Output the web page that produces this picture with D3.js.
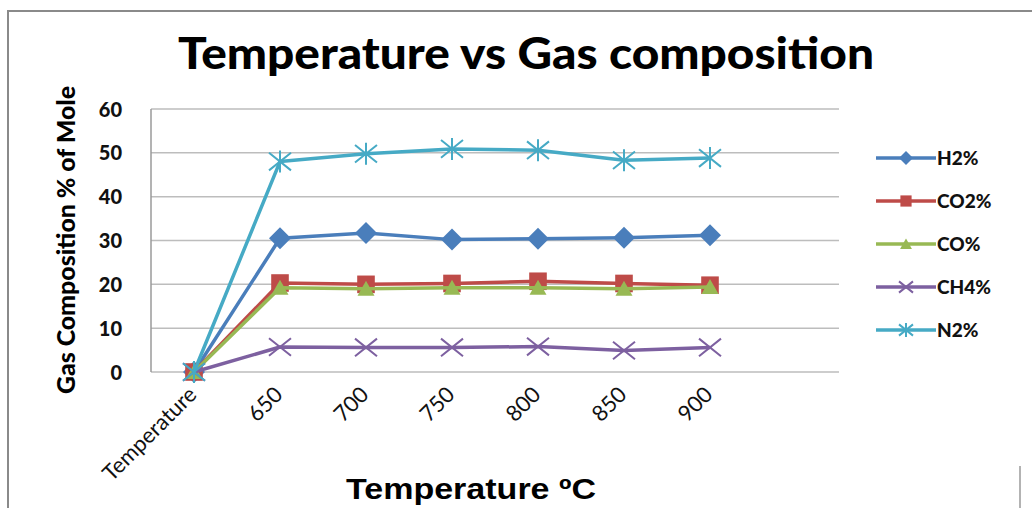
<!DOCTYPE html>
<html>
<head>
<meta charset="utf-8">
<script src="https://cdn.jsdelivr.net/npm/d3@7"></script>
<style>
  html, body { margin: 0; padding: 0; background: #fff; }
  svg { display: block; }
</style>
</head>
<body>
<svg id="chart" width="1032" height="508"></svg>
<script>
// Categories along the x axis and percentage tick values
const categories = ["Temperature", "650", "700", "750", "800", "850", "900"];
const yTicks = [0, 10, 20, 30, 40, 50, 60];

// Gas composition (% of mole) per temperature
const h2  = [0, 30.5, 31.7, 30.2, 30.4, 30.6, 31.2];
const co2 = [0, 20.3, 20.0, 20.2, 20.7, 20.2, 19.8];
const co  = [0, 19.2, 19.0, 19.2, 19.2, 19.0, 19.4];
const ch4 = [0, 5.7, 5.6, 5.6, 5.8, 4.9, 5.6];
const n2  = [0, 48.0, 49.8, 50.9, 50.6, 48.3, 48.8];

const seriesNames = ["H2%", "CO2%", "CO%", "CH4%", "N2%"];
const seriesValues = [h2, co2, co, ch4, n2];
const seriesColors = ["#4A7EBB", "#BE4B48", "#98B954", "#7D60A0", "#46AAC5"];
const seriesMarkers = ["diamond", "square", "triangle", "x", "star"];

const svg = d3.select("#chart");

// Outer frame
svg.append("line").attr("x1", 8).attr("x2", 1032).attr("y1", 11).attr("y2", 11)
  .attr("stroke", "#8a8a8a").attr("stroke-width", 2);
svg.append("line").attr("x1", 8).attr("x2", 8).attr("y1", 10).attr("y2", 508)
  .attr("stroke", "#8a8a8a").attr("stroke-width", 2);
svg.append("line").attr("x1", 1020).attr("x2", 1020).attr("y1", 466).attr("y2", 508)
  .attr("stroke", "#9a9a9a").attr("stroke-width", 1.5);

const plot = { left: 151, right: 839, top: 109, bottom: 372 };
const slot = 86;

const x = d3.scaleBand().domain(categories)
  .range([plot.left, plot.left + slot * categories.length]);
const y = d3.scaleLinear().domain([0, 60]).range([plot.bottom, plot.top]);
const cx = c => x(c) + x.bandwidth() / 2;

// Title
svg.append("text").attr("x", 526).attr("y", 69).attr("text-anchor", "middle")
  .attr("font-family", "Lato, 'Open Sans', sans-serif").attr("font-weight", "900")
  .attr("font-size", 44).attr("textLength", 696).attr("lengthAdjust", "spacingAndGlyphs")
  .attr("fill", "#000").text("Temperature vs Gas composition");

// Gridlines
svg.append("g").selectAll("line").data(yTicks).join("line")
  .attr("x1", plot.left).attr("x2", plot.right)
  .attr("y1", d => y(d)).attr("y2", d => y(d))
  .attr("stroke", "#bdbdbd").attr("stroke-width", 1.5);

// Plot-area left border
svg.append("line").attr("x1", plot.left).attr("x2", plot.left)
  .attr("y1", plot.top).attr("y2", plot.bottom)
  .attr("stroke", "#9a9a9a").attr("stroke-width", 1.5);

// Y axis labels
const yAxis = d3.axisLeft(y).tickValues(yTicks).tickSize(0).tickPadding(0);
const yg = svg.append("g").attr("transform", `translate(${plot.left - 29},0)`).call(yAxis);
yg.select(".domain").remove();
yg.selectAll("text").attr("font-family", "Lato, 'Open Sans', sans-serif")
  .attr("font-weight", "900").attr("font-size", 20).attr("fill", "#111")
  .attr("text-anchor", "end").attr("dy", "0.35em").attr("x", 0);

// X axis labels, rotated
const xAxis = d3.axisBottom(x).tickSize(0).tickPadding(0);
const xg = svg.append("g").attr("transform", `translate(0,${plot.bottom})`).call(xAxis);
xg.select(".domain").remove();
xg.selectAll(".tick text")
  .attr("font-family", "Lato, 'Open Sans', sans-serif").attr("font-size", 22)
  .attr("fill", "#111").attr("text-anchor", "end")
  .attr("dy", 0).attr("y", 0)
  .attr("transform", "translate(4,24) rotate(-45)");

// Axis titles
svg.append("text").attr("x", 471).attr("y", 499).attr("text-anchor", "middle")
  .attr("font-family", "'Liberation Sans', Arial, sans-serif").attr("font-weight", "bold")
  .attr("font-size", 29).attr("textLength", 250).attr("lengthAdjust", "spacingAndGlyphs")
  .attr("fill", "#000").text("Temperature ºC");
svg.append("text").attr("transform", "translate(75,240) rotate(-90)")
  .attr("text-anchor", "middle")
  .attr("font-family", "Lato, 'Open Sans', sans-serif").attr("font-weight", "900")
  .attr("font-size", 25).attr("textLength", 308).attr("lengthAdjust", "spacingAndGlyphs")
  .attr("fill", "#000").text("Gas Composition % of Mole");

// Marker drawing
function drawMarker(g, type, color, size) {
  const s = size;
  if (type === "diamond") {
    g.append("path").attr("d", `M0,${-s}L${s},0L0,${s}L${-s},0Z`).attr("fill", color);
  } else if (type === "square") {
    g.append("rect").attr("x", -s * 0.8).attr("y", -s * 0.8)
      .attr("width", s * 1.6).attr("height", s * 1.6).attr("fill", color);
  } else if (type === "triangle") {
    g.append("path").attr("d", `M0,${-s * 0.8}L${s * 0.85},${s * 0.7}L${-s * 0.85},${s * 0.7}Z`)
      .attr("fill", color);
  } else if (type === "x") {
    g.append("path").attr("d", `M${-s},${-s * 0.8}L${s},${s * 0.8}M${-s},${s * 0.8}L${s},${-s * 0.8}`)
      .attr("stroke", color).attr("stroke-width", 2).attr("fill", "none");
  } else if (type === "star") {
    g.append("path").attr("d", `M${-s},${-s * 0.8}L${s},${s * 0.8}M${-s},${s * 0.8}L${s},${-s * 0.8}M0,${-s}L0,${s}`)
      .attr("stroke", color).attr("stroke-width", 2).attr("fill", "none");
  }
}

const line = d3.line().x((d, i) => cx(categories[i])).y(d => y(d));

seriesValues.forEach((vals, k) => {
  const color = seriesColors[k];
  const g = svg.append("g");
  g.append("path").datum(vals).attr("d", line)
    .attr("fill", "none").attr("stroke", color).attr("stroke-width", 3.5)
    .attr("stroke-linejoin", "round");
  vals.forEach((v, i) => {
    const m = g.append("g").attr("transform", `translate(${cx(categories[i])},${y(v)})`);
    drawMarker(m, seriesMarkers[k], color, k === 2 ? 10 : 11);
  });
});

// Legend
const legend = svg.append("g");
seriesNames.forEach((name, k) => {
  const ly = 158 + k * 43;
  const color = seriesColors[k];
  legend.append("line").attr("x1", 876).attr("x2", 936).attr("y1", ly).attr("y2", ly)
    .attr("stroke", color).attr("stroke-width", 3.5);
  const m = legend.append("g").attr("transform", `translate(906,${ly})`);
  drawMarker(m, seriesMarkers[k], color, 7);
  legend.append("text").attr("x", 937).attr("y", ly).attr("dy", "0.36em")
    .attr("font-family", "Lato, 'Open Sans', sans-serif").attr("font-weight", "900")
    .attr("font-size", 19).attr("fill", "#111").text(name);
});
</script>
</body>
</html>
